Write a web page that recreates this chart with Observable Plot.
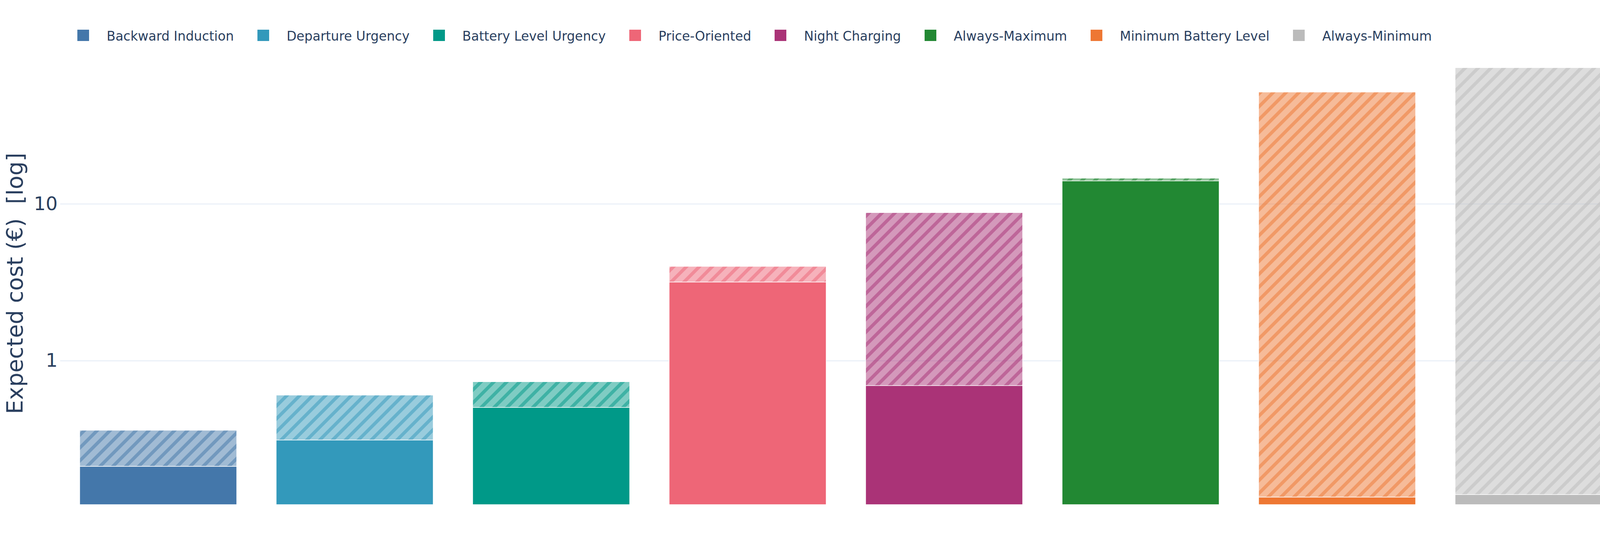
<!DOCTYPE html>
<html>
<head>
<meta charset="utf-8">
<script src="https://cdn.jsdelivr.net/npm/d3@7"></script>
<script src="https://cdn.jsdelivr.net/npm/@observablehq/plot@0.6"></script>
<style>
  html, body { margin: 0; padding: 0; background: #fff; }
  body { width: 4200px; height: 1380px; overflow: hidden; font-family: "DejaVu Sans", sans-serif; }
  #legend { height: 130px; position: relative; }
  #legend .row { position: absolute; top: 75px; left: 153px; display: flex; align-items: center; height: 30px; }
  #legend .item { display: flex; align-items: center; margin-left: 45px; margin-right: 15px; }
  #legend .sw { width: 30px; height: 29px; margin-right: 45px; }
  #legend .lbl { font-size: 33px; color: #2a3f5f; white-space: nowrap; position: relative; top: 2px; }
</style>
</head>
<body>
<div id="legend"><div class="row"></div></div>
<div id="chart"></div>
<script>
const strategies = ["Backward Induction", "Departure Urgency", "Battery Level Urgency", "Price-Oriented",
                    "Night Charging", "Always-Maximum", "Minimum Battery Level", "Always-Minimum"];
const colors = ["#4477AA", "#3399BB", "#009988", "#EE6677", "#AA3377", "#228833", "#EE7733", "#BBBBBB"];
// solid (lower) segment and hatched (upper) segment of each stacked bar, in €
const baseCost  = [0.212, 0.312, 0.503, 3.17, 0.693, 13.98, 0.135, 0.140];
const extraCost = [0.148, 0.291, 0.231, 0.82, 8.09, 0.59, 51.4, 73.6];
const yTicks = [1, 10];
const yDomain = [0.1208, 84.2];
const yTitle = "Expected cost (€)\u00a0 [log]";

const rows = strategies.map((s, i) => ({strategy: s, idx: i, base: baseCost[i], top: baseCost[i] + extraCost[i]}));

// legend
const row = document.querySelector("#legend .row");
strategies.forEach((s, i) => {
  const it = document.createElement("div");
  it.className = "item";
  it.innerHTML = `<span class="sw" style="background:${colors[i]}"></span><span class="lbl">${s}</span>`;
  row.appendChild(it);
});

const ns = "http://www.w3.org/2000/svg";
function patternDefs() {
  const defs = document.createElementNS(ns, "defs");
  colors.forEach((c, i) => {
    const p = document.createElementNS(ns, "pattern");
    p.setAttribute("id", `hatch${i}`);
    p.setAttribute("patternUnits", "userSpaceOnUse");
    p.setAttribute("width", 33);
    p.setAttribute("height", 33);
    const r = document.createElementNS(ns, "rect");
    r.setAttribute("width", 33); r.setAttribute("height", 33);
    r.setAttribute("fill", c); r.setAttribute("fill-opacity", 0.5);
    p.appendChild(r);
    const path = document.createElementNS(ns, "path");
    path.setAttribute("d", "M-8.25,8.25 L8.25,-8.25 M0,33 L33,0 M24.75,41.25 L41.25,24.75");
    path.setAttribute("stroke", c);
    path.setAttribute("stroke-opacity", 0.5);
    path.setAttribute("stroke-width", 8.5);
    p.appendChild(path);
    defs.appendChild(p);
  });
  return defs;
}

const hatched = rows.map(d => Plot.barY([d], {
  x: "strategy", y1: "base", y2: "top",
  fill: `url(#hatch${d.idx})`, stroke: "white", strokeWidth: 1.5
}));

const plot = Plot.plot({
  width: 4200,
  height: 1250,
  marginTop: 20,
  marginBottom: 88,
  marginLeft: 154,
  marginRight: 22,
  style: {fontFamily: "DejaVu Sans", background: "white", color: "#2a3f5f"},
  x: {domain: strategies, paddingInner: 0.2, paddingOuter: 0.1, axis: null},
  y: {type: "log", domain: yDomain, axis: null},
  color: {domain: strategies, range: colors},
  marks: [
    patternDefs,
    Plot.gridY(yTicks, {stroke: "#ebf0f8", strokeOpacity: 1, strokeWidth: 3}),
    Plot.axisY(yTicks, {tickSize: 0, tickPadding: 7, fontSize: 48, fill: "#2a3f5f", tickFormat: d => String(d), label: null}),
    Plot.barY(rows, {x: "strategy", y1: () => yDomain[0], y2: "base", fill: "strategy", stroke: "white", strokeWidth: 1.5}),
    ...hatched,
    Plot.text([yTitle], {text: d => d, frameAnchor: "left", rotate: -90, textAnchor: "middle", lineAnchor: "bottom",
                         dx: -97, dy: 4, fontSize: 57, fill: "#2a3f5f"})
  ]
});
document.getElementById("chart").appendChild(plot);
</script>
</body>
</html>
